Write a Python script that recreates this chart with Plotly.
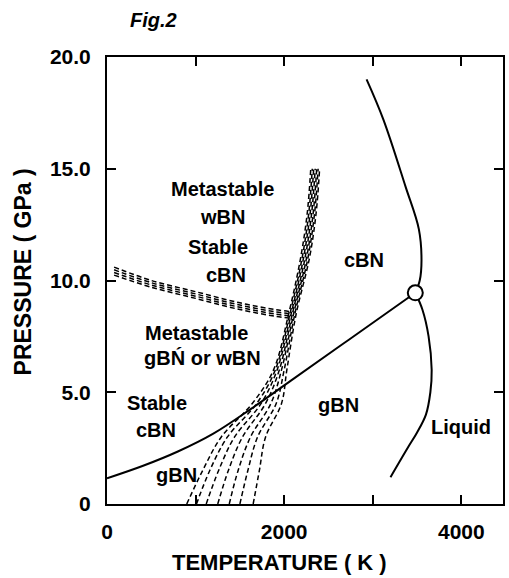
import plotly.graph_objects as go

# ---- data ----
# gBN / cBN equilibrium line (solid)
eq_T = [0, 400, 800, 1200, 1630, 2080, 2730, 3480]
eq_P = [1.15, 1.7, 2.35, 3.15, 4.27, 5.53, 7.35, 9.45]

# cBN melting curve (upper, solid)
mc_T = [2930, 3120, 3370, 3520, 3550, 3530, 3480]
mc_P = [19.0, 17.2, 14.2, 12.3, 10.9, 10.0, 9.45]

# gBN melting curve (lower, solid)
mg_T = [3480, 3560, 3630, 3665, 3650, 3600, 3500, 3400, 3200]
mg_P = [9.45, 8.7, 7.5, 6.0, 5.0, 4.0, 3.2, 2.55, 1.2]

# triple point
tp_T = [3480]
tp_P = [9.45]

# kinetic boundaries: horizontal dashed bundle
h_T = [80, 500, 1000, 1500, 1900, 2090]
h_P = [[10.6, 10.0, 9.5, 9.0, 8.7, 8.6],
       [10.48, 9.9, 9.4, 8.9, 8.6, 8.5],
       [10.36, 9.8, 9.3, 8.8, 8.5, 8.4],
       [10.24, 9.7, 9.2, 8.7, 8.4, 8.3]]

# kinetic boundaries: fan of dashed lines rising to the steep bundle
fan_P = [0, 1.5, 3, 4.5, 6, 8.5, 11, 13, 15]
fan_T = [
    [900, 1080, 1290, 1640, 1880, 2050, 2185, 2260, 2300],
    [1010, 1160, 1360, 1690, 1900, 2064, 2202, 2277, 2317],
    [1120, 1260, 1440, 1740, 1920, 2078, 2218, 2293, 2333],
    [1250, 1370, 1530, 1790, 1945, 2092, 2235, 2310, 2350],
    [1380, 1480, 1620, 1850, 1970, 2106, 2252, 2327, 2367],
    [1500, 1590, 1700, 1910, 2000, 2120, 2268, 2343, 2383],
    [1650, 1720, 1790, 1970, 2030, 2135, 2285, 2360, 2400],
]

# region labels
lab_text = ["Metastable", "wBN", "Stable", "cBN", "Metastable", "gBŃ or wBN",
            "cBN", "gBN", "Liquid", "Stable", "cBN", "gBN"]
lab_T = [1303, 1303, 1258, 1348, 1011, 1080, 2899, 2618, 4000, 560, 550, 785]
lab_P = [14.1, 12.84, 11.5, 10.25, 7.65, 6.53, 10.9, 4.43, 3.45, 4.5, 3.3, 1.3]

x_ticks = [0, 1000, 2000, 3000, 4000]
x_tick_text = ["0", "", "2000", "", "4000"]
y_ticks = [0, 5, 10, 15, 20]
y_tick_text = ["0", "5.0", "10.0", "15.0", "20.0"]

FONT = "Liberation Sans, Arial, sans-serif"

fig = go.Figure()

dash_line = dict(color="black", width=1.5, dash="5px,3px")
for hp in h_P:
    fig.add_trace(go.Scatter(x=h_T, y=hp, mode="lines", line=dash_line, line_shape="spline"))
for ft in fan_T:
    fig.add_trace(go.Scatter(x=ft, y=fan_P, mode="lines", line=dash_line, line_shape="spline"))

solid = dict(color="black", width=2)
fig.add_trace(go.Scatter(x=eq_T, y=eq_P, mode="lines", line=solid, line_shape="spline"))
fig.add_trace(go.Scatter(x=mc_T, y=mc_P, mode="lines", line=solid, line_shape="spline"))
fig.add_trace(go.Scatter(x=mg_T, y=mg_P, mode="lines", line=solid, line_shape="spline"))
fig.add_trace(go.Scatter(x=tp_T, y=tp_P, mode="markers",
                         marker=dict(symbol="circle", size=15, color="white",
                                     line=dict(color="black", width=2))))

for t, x, y in zip(lab_text, lab_T, lab_P):
    fig.add_annotation(x=x, y=y, text=t, showarrow=False,
                       font=dict(family=FONT, size=20, color="black", weight="bold"))

# figure caption and axis titles
fig.add_annotation(xref="paper", yref="paper", x=(128 - 107) / 398, y=1 + (57 - 20) / 447,
                   xanchor="left", yanchor="middle", text="<i>Fig.2</i>", showarrow=False,
                   font=dict(family=FONT, size=20, color="black", weight="bold"))
fig.add_annotation(xref="paper", yref="paper", x=(280 - 107) / 398, y=-(562 - 504) / 447,
                   xanchor="center", yanchor="middle", text="TEMPERATURE ( K )", showarrow=False,
                   font=dict(family=FONT, size=22, color="black", weight="bold"))
fig.add_annotation(xref="paper", yref="paper", x=-(107 - 23) / 398, y=(504 - 272) / 447,
                   xanchor="center", yanchor="middle", text="PRESSURE ( GPa )", showarrow=False,
                   textangle=-90,
                   font=dict(family=FONT, size=23, color="black", weight="bold"))

axis_common = dict(showline=True, linecolor="black", linewidth=2, mirror="ticks",
                   ticks="inside", ticklen=9, tickwidth=1.5, tickcolor="black",
                   showgrid=False, zeroline=False,
                   tickfont=dict(family=FONT, size=21, color="black", weight="bold"))
fig.update_xaxes(range=[0, 4470], tickvals=x_ticks, ticktext=x_tick_text,
                 ticklabelstandoff=8, **axis_common)
fig.update_yaxes(range=[0, 20], tickvals=y_ticks, ticktext=y_tick_text,
                 ticklabelstandoff=10, **axis_common)

fig.update_layout(width=509, height=578, showlegend=False,
                  margin=dict(l=107, r=4, t=57, b=74),
                  paper_bgcolor="white", plot_bgcolor="white")

fig.write_html("out.html")
